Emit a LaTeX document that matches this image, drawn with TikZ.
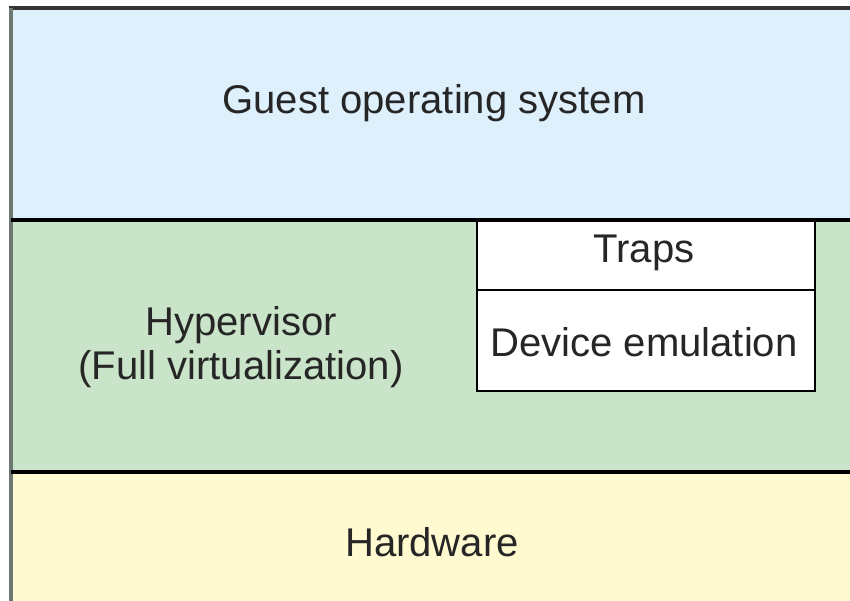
\documentclass[tikz,border=0pt]{standalone}
\usepackage{fontspec}
\setmainfont{Liberation Sans}
\definecolor{guestblue}{RGB}{222,240,252}
\definecolor{hyvgreen}{RGB}{201,228,201}
\definecolor{hwyellow}{RGB}{255,250,208}
\definecolor{edgegray}{RGB}{110,120,115}
\begin{document}
\begin{tikzpicture}[x=0.02cm,y=-0.02cm,
  sep/.style={line width=2pt,black},
  label/.style={font=\fontsize{22.8}{25}\selectfont,align=center,text=black!85},
  cell/.style={draw=black,line width=1.6pt,fill=white}]
  \useasboundingbox (0,0) rectangle (850,601);
  % layered bands
  \fill[guestblue] (11,9) rectangle (850,220);
  \fill[hyvgreen] (11,220) rectangle (850,472);
  \fill[hwyellow] (11,472) rectangle (850,601);
  % outer frame (top and left edges)
  \draw[line width=2pt,black!80] (9,8) -- (850,8);
  \draw[line width=2.2pt,edgegray] (11,8) -- (11,601);
  % band separators
  \draw[sep] (11,220) -- (850,220);
  \draw[sep] (11,472) -- (850,472);
  % hypervisor internals
  \draw[cell] (477,221) rectangle (815,391);
  \draw[line width=1.6pt] (477,290) -- (815,290);
  % texts
  \node[label] (guest) at (434,103) {Guest operating system};
  \node[label] (hyp) at (241,347) {Hypervisor\\(Full virtualization)};
  \node[label] (traps) at (644,253) {Traps};
  \node[label] (dev) at (644,342) {Device emulation};
  \node[label] (hw) at (432,542) {Hardware};
\end{tikzpicture}
\end{document}
